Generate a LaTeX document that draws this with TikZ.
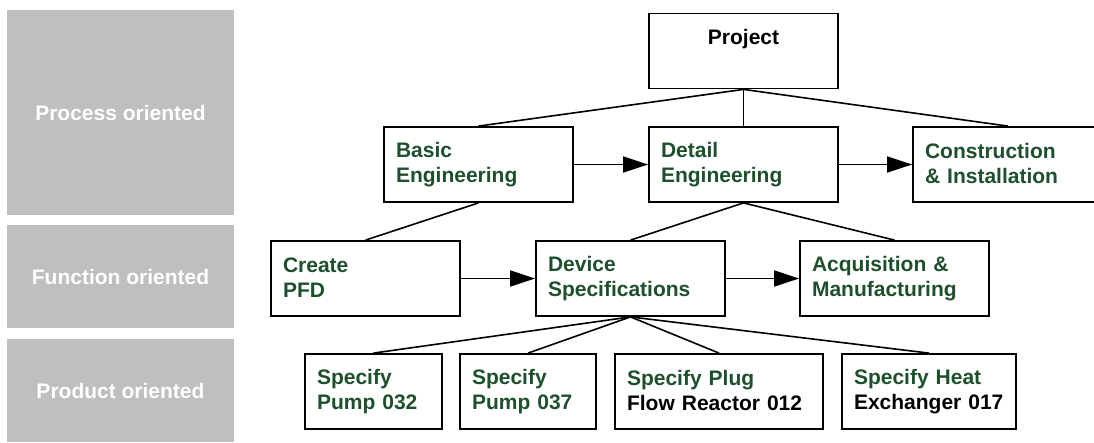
\documentclass[tikz,border=0pt]{standalone}
\usepackage{fontspec}
\setmainfont{Liberation Sans}
\usetikzlibrary{arrows.meta}
\definecolor{dgreen}{RGB}{30,80,46}
\definecolor{bandgray}{RGB}{191,191,191}
\newcommand{\twol}[2]{\rule{0pt}{15pt}#1\\#2\rule[-3pt]{0pt}{3pt}}
\begin{document}
\begin{tikzpicture}[x=1pt,y=-1pt,
  every node/.style={font=\fontsize{21pt}{25pt}\selectfont\bfseries},
  tbox/.style={draw=black, line width=1.8pt, fill=white, inner xsep=12pt, inner ysep=0pt,
     minimum height=75pt, align=left, text=dgreen, text width=#1-24pt},
  band/.style={fill=bandgray, draw=none, text=white, minimum width=227pt, align=center, inner sep=0pt},
  conn/.style={line width=1.6pt},
  arr/.style={line width=1.6pt, -{Triangle[length=25pt,width=16pt]}}
]
\useasboundingbox (0,0) rectangle (1094,442);
\clip (0,0) rectangle (1094,442);
\fill[white] (0,0) rectangle (1094,442);
% bands
\node[band, minimum height=205pt] (b1) at (120.5,112.5) {Process oriented};
\node[band, minimum height=103pt] (b2) at (120.5,276.5) {Function oriented};
\node[band, minimum height=103pt] (b3) at (120.5,390.5) {Product oriented};
% boxes
\node[tbox=189pt, align=center, text=black] (proj) at (743.5,51) {\twol{Project}{}};
\node[tbox=189pt] (basic) at (478.5,164.5) {\twol{Basic}{Engineering}};
\node[tbox=189pt] (detail) at (743.5,164.5) {\twol{Detail}{Engineering}};
\node[tbox=190pt] (constr) at (1008,164.5) {\twol{Construction}{\& Installation}};
\node[tbox=189pt] (create) at (365.5,278.5) {\twol{Create}{PFD}};
\node[tbox=189pt] (device) at (630.5,278.5) {\twol{Device}{Specifications}};
\node[tbox=189pt] (acq) at (894.5,278.5) {\twol{Acquisition \&}{Manufacturing}};
\node[tbox=137pt] (p32) at (373.5,391.5) {\twol{Specify}{Pump 032}};
\node[tbox=136pt] (p37) at (528,391.5) {\twol{Specify}{Pump 037}};
\node[tbox=208pt] (plug) at (719,391.5) {\twol{Specify Plug}{\textcolor{black}{Flow Reactor 012}}};
\node[tbox=174pt] (heat) at (929,391.5) {\twol{Specify Heat}{\textcolor{black}{Exchanger 017}}};
% connectors
\draw[conn] (proj.south) -- (basic.north);
\draw[conn] (proj.south) -- (detail.north);
\draw[conn] (proj.south) -- (constr.north);
\draw[conn] (basic.south) -- (create.north);
\draw[conn] (detail.south) -- (device.north);
\draw[conn] (detail.south) -- (acq.north);
\draw[conn] (device.south) -- (p32.north);
\draw[conn] (device.south) -- (p37.north);
\draw[conn] (device.south) -- (plug.north);
\draw[conn] (device.south) -- (heat.north);
% arrows
\draw[arr] (basic.east) -- (detail.west);
\draw[arr] (detail.east) -- (constr.west);
\draw[arr] (create.east) -- (device.west);
\draw[arr] (device.east) -- (acq.west);
\end{tikzpicture}
\end{document}
